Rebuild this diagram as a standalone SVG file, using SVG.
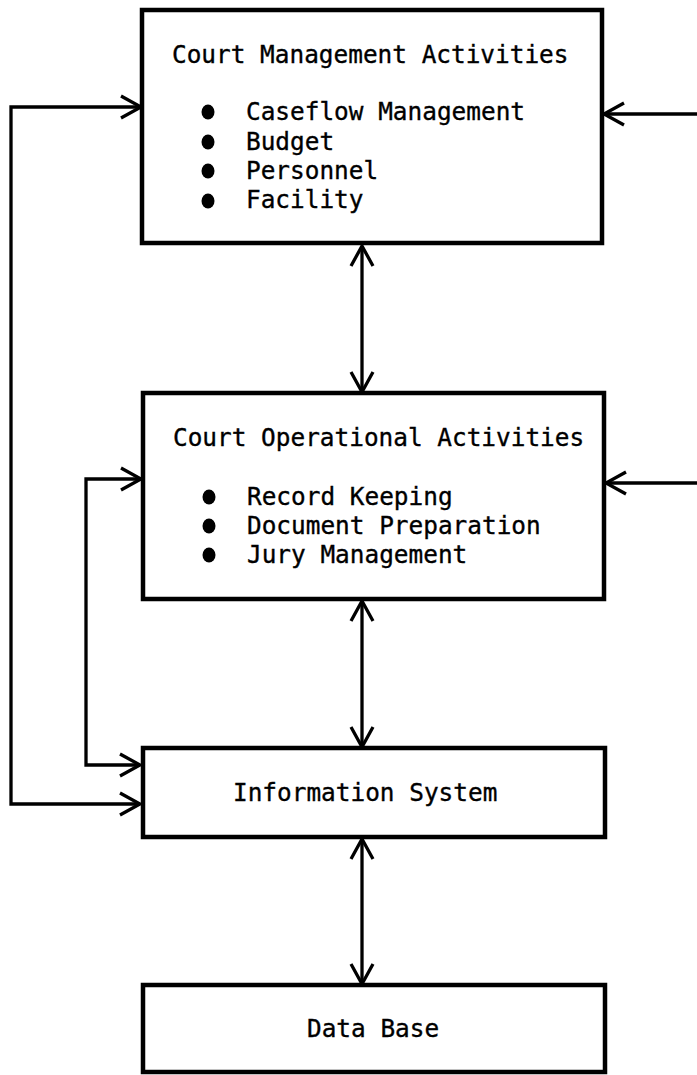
<svg xmlns="http://www.w3.org/2000/svg" width="697" height="1075" viewBox="0 0 697 1075">
<style>
.box{fill:#fff;stroke:#000;stroke-width:4.5}
.t{font-family:"DejaVu Sans Mono","Liberation Mono",monospace;font-size:24.4px;fill:#000;stroke:#000;stroke-width:0.35}
.c{fill:none;stroke:#000;stroke-width:3.3}
.b{fill:#000}
</style>
<defs>
<marker id="ah" viewBox="-23 -13 25 26" refX="0" refY="0" markerWidth="25" markerHeight="26" markerUnits="userSpaceOnUse" orient="auto-start-reverse">
<path d="M-20,-11 L0,0 L-20,11" fill="none" stroke="#000" stroke-width="3.3"/>
</marker>
</defs>
<rect width="697" height="1075" fill="#fff"/>
<g id="connectors">
<path class="c" d="M141,107 H11 V804 H140" marker-start="url(#ah)" marker-end="url(#ah)"/>
<path class="c" d="M141,479 H86 V765 H140" marker-start="url(#ah)" marker-end="url(#ah)"/>
<path class="c" d="M697,114 H604" marker-end="url(#ah)"/>
<path class="c" d="M697,483 H606" marker-end="url(#ah)"/>
<path class="c" d="M362,246 V392" marker-start="url(#ah)" marker-end="url(#ah)"/>
<path class="c" d="M362,601 V747" marker-start="url(#ah)" marker-end="url(#ah)"/>
<path class="c" d="M362,839 V984" marker-start="url(#ah)" marker-end="url(#ah)"/>
</g>
<g id="court-management">
<rect class="box" x="142" y="10" width="460" height="233"/>
<text class="t" x="172" y="63">Court Management Activities</text>
<ellipse class="b" cx="208" cy="112" rx="6.5" ry="7.5"/>
<ellipse class="b" cx="208" cy="142" rx="6.5" ry="7.5"/>
<ellipse class="b" cx="208" cy="171" rx="6.5" ry="7.5"/>
<ellipse class="b" cx="208" cy="201" rx="6.5" ry="7.5"/>
<text class="t" x="246" y="120">Caseflow Management</text>
<text class="t" x="246" y="150">Budget</text>
<text class="t" x="246" y="179">Personnel</text>
<text class="t" x="246" y="208">Facility</text>
</g>
<g id="court-operational">
<rect class="box" x="143" y="393" width="461" height="206"/>
<text class="t" x="173" y="446">Court Operational Activities</text>
<ellipse class="b" cx="209" cy="497" rx="6.5" ry="7.5"/>
<ellipse class="b" cx="209" cy="526" rx="6.5" ry="7.5"/>
<ellipse class="b" cx="209" cy="555" rx="6.5" ry="7.5"/>
<text class="t" x="247" y="505">Record Keeping</text>
<text class="t" x="247" y="534">Document Preparation</text>
<text class="t" x="247" y="563">Jury Management</text>
</g>
<g id="information-system">
<rect class="box" x="143" y="748" width="462" height="89"/>
<text class="t" x="233" y="801">Information System</text>
</g>
<g id="data-base">
<rect class="box" x="143" y="985" width="462" height="87"/>
<text class="t" x="307" y="1037">Data Base</text>
</g>
</svg>
